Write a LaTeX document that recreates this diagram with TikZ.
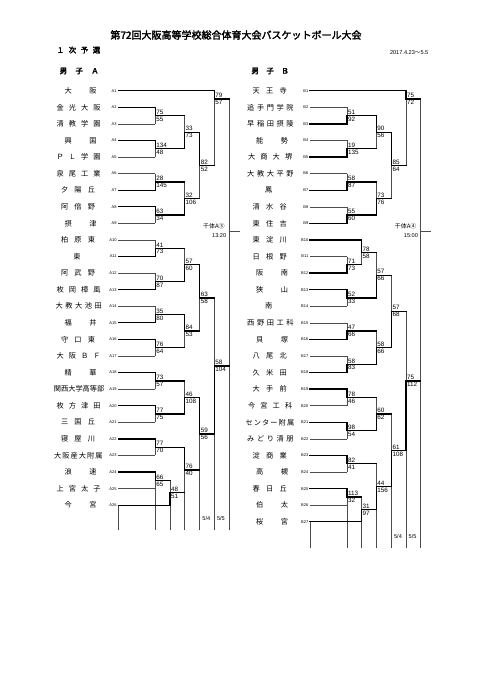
\documentclass[tikz,border=0pt]{standalone}
\usepackage{fontspec}
\setsansfont{Liberation Sans}
\newfontfamily\jp{Noto Sans CJK JP}[AutoFakeBold=2.5]
\pgfdeclarelayer{fg}
\pgfsetlayers{main,fg}
% name box: left offset from line start, box width, by number of characters
\def\nmLi{45.1}\def\nmWi{7.2}
\def\nmLii{54}\def\nmWii{32}
\def\nmLiii{57.5}\def\nmWiii{34}
\def\nmLiv{62}\def\nmWiv{44}
\def\nmLv{63}\def\nmWv{46.4}
\def\nmLvi{64.5}\def\nmWvi{48.5}
\def\nmLvii{64.6}\def\nmWvii{50.4}
\def\gobbleone#1{}
\def\sprd#1{\sprdi#1\relax}
\def\sprdi#1#2{#1\ifx\relax#2\expandafter\gobbleone\else\hfill\expandafter\sprdi\fi#2}
\newcommand\Yk[1]{(90.7+8.29*(#1))}
% column offsets
\def\cI{37}\def\cII{51.6}\def\cIII{66.2}\def\cIV{81.4}\def\cV{96}\def\cVI{110.6}\def\cT{121.2}
\def\ca{118.3}\def\cb{310}
\tikzset{
  win/.style={line width=1.3pt,black,line cap=rect},
  lose/.style={line width=0.5pt,black!70},
  nm/.style={inner sep=0pt,font=\jp\fontsize{7.2}{8}\selectfont},
  lb/.style={inner sep=0pt,font=\sffamily\fontsize{4}{4.5}\selectfont},
  sc/.style={inner sep=0.6pt,font=\sffamily\fontsize{6.3}{7}\selectfont},
  dt/.style={inner sep=0pt,font=\sffamily\fontsize{5.6}{6.5}\selectfont},
  hd/.style={inner sep=0pt,font=\jp\bfseries\fontsize{7.5}{9}\selectfont},
}
\newcommand\team[7]{%
  \edef\tmpL{\csname nmL\romannumeral#4\endcsname}%
  \edef\tmpW{\csname nmW\romannumeral#4\endcsname}%
  \node[nm,anchor=west] (n#3) at ({#1-\tmpL},{\Yk{#2}}) {\makebox[\tmpW pt]{\sprd{#5}}};
  \node[lb,anchor=east] (l#3) at ({#1-1.5},{\Yk{#2}}) {#3};
  \begin{pgfonlayer}{fg}
  \draw[#7] ({#1},{\Yk{#2}}) -- ({#1+#6},{\Yk{#2}});
  \end{pgfonlayer}
}
% #1 start x, #2 column, #3 next column, #4 upper k, #5 lower k, #6 output k, #7 u/l winner, #8 upper score, #9 lower score
\newcommand\mt[9]{%
  \def\xx{#1+#2}\def\xn{#1+#3}%
  \if u#7%
    \draw[lose] ({\xx},{\Yk{#6}}) -- ({\xx},{\Yk{#5}});
    \begin{pgfonlayer}{fg}\draw[win] ({\xx},{\Yk{#4}}) -- ({\xx},{\Yk{#6}});\end{pgfonlayer}
  \else
    \draw[lose] ({\xx},{\Yk{#4}}) -- ({\xx},{\Yk{#6}});
    \begin{pgfonlayer}{fg}\draw[win] ({\xx},{\Yk{#5}}) -- ({\xx},{\Yk{#6}});\end{pgfonlayer}
  \fi
  \begin{pgfonlayer}{fg}\draw[win] ({\xx},{\Yk{#6}}) -- ({\xn},{\Yk{#6}});\end{pgfonlayer}
  \node[sc,anchor=south west] at ({\xx+0.3},{\Yk{#6}-0.4}) {#8};
  \node[sc,anchor=north west] at ({\xx+0.3},{\Yk{#6}+0.5}) {#9};
}
\begin{document}
\begin{tikzpicture}[x=1pt,y=-1pt]
\useasboundingbox (0,0) rectangle (482,680);
\fill[white] (0,0) rectangle (482,680);
% header
\node[inner sep=0pt,font=\jp\bfseries\fontsize{10}{12}\selectfont] (title) at (236,35) {第72回大阪高等学校総合体育大会バスケットボール大会};
\node[hd,anchor=west] (round) at (56.5,50) {\makebox[43.5pt]{\sprd{１次予選}}};
\node[dt,anchor=east] (date) at (428.5,53) {2017.4.23{\jp ～}5.5};
\node[hd,anchor=west] (hA) at (59.5,71) {\makebox[39pt]{\sprd{男子Ａ}}};
\node[hd,anchor=west] (hB) at (251.2,71) {\makebox[37.5pt]{\sprd{男子Ｂ}}};
% guide lines A
\draw[lose] (\ca,{\Yk{50}}) -- (\ca,530);
\draw[lose] ({\ca+\cI},{\Yk{48}}) -- ({\ca+\cI},530);
\draw[lose] ({\ca+\cII},{\Yk{50}}) -- ({\ca+\cII},530);
\draw[lose] ({\ca+\cIII},{\Yk{48.5}}) -- ({\ca+\cIII},530);
\draw[lose] ({\ca+\cIV},{\Yk{45.75}}) -- ({\ca+\cIV},530);
\draw[lose] ({\ca+\cV},{\Yk{41.4}}) -- ({\ca+\cV},530);
\draw[lose] ({\ca+\cVI},{\Yk{1}}) -- ({\ca+\cVI},530);
\draw[lose] ({\ca+\cVI},{\Yk{17}}) -- ({\ca+\cT},{\Yk{17}});
\node[inner sep=0pt,anchor=east,font=\jp\fontsize{6}{7}\selectfont] (hallA) at ({\ca+\cVI-4},{\Yk{17}-5}) {千体A③};
\node[dt,anchor=east] (timeA) at ({\ca+\cVI-2.5},{\Yk{17}+3.6}) {13:20};
\node[dt,anchor=west] (dA1) at ({\ca+\cIV+2.5},518) {5/4};
\node[dt,anchor=west] (dA2) at ({\ca+\cV+2.5},518) {5/5};
% guide lines B
\draw[lose] (\cb,{\Yk{52}}) -- (\cb,548);
\draw[lose] ({\cb+\cI},{\Yk{50}}) -- ({\cb+\cI},548);
\draw[lose] ({\cb+\cII},{\Yk{52}}) -- ({\cb+\cII},548);
\draw[lose] ({\cb+\cIII},{\Yk{50.5}}) -- ({\cb+\cIII},548);
\draw[lose] ({\cb+\cIV},{\Yk{47.75}}) -- ({\cb+\cIV},548);
\draw[lose] ({\cb+\cV},{\Yk{43.4}}) -- ({\cb+\cV},548);
\draw[lose] ({\cb+\cVI},{\Yk{1}}) -- ({\cb+\cVI},548);
\draw[lose] ({\cb+\cVI},{\Yk{17}}) -- ({\cb+\cT},{\Yk{17}});
\node[inner sep=0pt,anchor=east,font=\jp\fontsize{6}{7}\selectfont] (hallB) at ({\cb+\cVI-4},{\Yk{17}-5}) {千体A④};
\node[dt,anchor=east] (timeB) at ({\cb+\cVI-2.5},{\Yk{17}+3.6}) {15:00};
\node[dt,anchor=west] (dB1) at ({\cb+\cIV+2.5},536) {5/4};
\node[dt,anchor=west] (dB2) at ({\cb+\cV+2.5},536) {5/5};
% teams A
\team{\ca}{0}{A1}{2}{大阪}{\cV}{win}
\team{\ca}{2}{A2}{4}{金光大阪}{\cI}{win}
\team{\ca}{4}{A3}{4}{清教学園}{\cI}{lose}
\team{\ca}{6}{A4}{2}{興国}{\cI}{win}
\team{\ca}{8}{A5}{4}{ＰＬ学園}{\cI}{lose}
\team{\ca}{10}{A6}{4}{泉尾工業}{\cI}{lose}
\team{\ca}{12}{A7}{3}{夕陽丘}{\cI}{win}
\team{\ca}{14}{A8}{3}{阿倍野}{\cI}{win}
\team{\ca}{16}{A9}{2}{摂津}{\cI}{lose}
\team{\ca}{18}{A10}{3}{柏原東}{\cI}{lose}
\team{\ca}{20}{A11}{1}{東}{\cI}{win}
\team{\ca}{22}{A12}{3}{阿武野}{\cI}{lose}
\team{\ca}{24}{A13}{4}{枚岡樟風}{\cI}{win}
\team{\ca}{26}{A14}{5}{大教大池田}{\cI}{lose}
\team{\ca}{28}{A15}{2}{福井}{\cI}{win}
\team{\ca}{30}{A16}{3}{守口東}{\cI}{win}
\team{\ca}{32}{A17}{4}{大阪ＢＦ}{\cI}{lose}
\team{\ca}{34}{A18}{2}{精華}{\cI}{win}
\team{\ca}{36}{A19}{7}{関西大学高等部}{\cI}{lose}
\team{\ca}{38}{A20}{4}{枚方津田}{\cI}{win}
\team{\ca}{40}{A21}{3}{三国丘}{\cI}{lose}
\team{\ca}{42}{A22}{3}{寝屋川}{\cI}{win}
\team{\ca}{44}{A23}{6}{大阪産大附属}{\cI}{lose}
\team{\ca}{46}{A24}{2}{浪速}{\cI}{win}
\team{\ca}{48}{A25}{4}{上宮太子}{\cI}{lose}
\team{\ca}{50}{A26}{2}{今宮}{\cII}{win}
% matches A
\mt{\ca}{\cI}{\cIII}{2}{4}{3}{u}{75}{55}
\mt{\ca}{\cI}{\cIII}{6}{8}{7}{u}{134}{48}
\mt{\ca}{\cI}{\cIII}{10}{12}{11}{l}{28}{145}
\mt{\ca}{\cI}{\cIII}{14}{16}{15}{u}{63}{34}
\mt{\ca}{\cI}{\cIII}{18}{20}{19}{l}{41}{73}
\mt{\ca}{\cI}{\cIII}{22}{24}{23}{l}{70}{87}
\mt{\ca}{\cI}{\cIII}{26}{28}{27}{l}{35}{80}
\mt{\ca}{\cI}{\cIII}{30}{32}{31}{u}{76}{64}
\mt{\ca}{\cI}{\cIII}{34}{36}{35}{u}{73}{57}
\mt{\ca}{\cI}{\cIII}{38}{40}{39}{u}{77}{75}
\mt{\ca}{\cI}{\cIII}{42}{44}{43}{u}{77}{70}
\mt{\ca}{\cI}{\cII}{46}{48}{47}{u}{66}{65}
\mt{\ca}{\cII}{\cIII}{47}{50}{48.5}{l}{48}{51}
\mt{\ca}{\cIII}{\cIV}{3}{7}{5}{l}{33}{73}
\mt{\ca}{\cIII}{\cIV}{11}{15}{13}{l}{32}{106}
\mt{\ca}{\cIII}{\cIV}{19}{23}{21}{l}{57}{60}
\mt{\ca}{\cIII}{\cIV}{27}{31}{29}{u}{84}{53}
\mt{\ca}{\cIII}{\cIV}{35}{39}{37}{l}{46}{108}
\mt{\ca}{\cIII}{\cIV}{43}{48.5}{45.75}{u}{76}{40}
\mt{\ca}{\cIV}{\cV}{5}{13}{9}{u}{82}{52}
\mt{\ca}{\cIV}{\cV}{21}{29}{25}{u}{63}{58}
\mt{\ca}{\cIV}{\cV}{37}{45.75}{41.4}{u}{59}{56}
\mt{\ca}{\cV}{\cVI}{0}{9}{1}{u}{79}{57}
\mt{\ca}{\cV}{\cVI}{25}{41.4}{33.2}{l}{58}{104}
% teams B
\team{\cb}{0}{B1}{3}{天王寺}{\cV}{win}
\team{\cb}{2}{B2}{5}{追手門学院}{\cI}{lose}
\team{\cb}{4}{B3}{5}{早稲田摂陵}{\cI}{win}
\team{\cb}{6}{B4}{2}{能勢}{\cI}{lose}
\team{\cb}{8}{B5}{4}{大商大堺}{\cI}{win}
\team{\cb}{10}{B6}{5}{大教大平野}{\cI}{lose}
\team{\cb}{12}{B7}{1}{鳳}{\cI}{win}
\team{\cb}{14}{B8}{3}{清水谷}{\cI}{lose}
\team{\cb}{16}{B9}{3}{東住吉}{\cI}{win}
\team{\cb}{18}{B10}{3}{東淀川}{\cII}{win}
\team{\cb}{20}{B11}{3}{日根野}{\cI}{lose}
\team{\cb}{22}{B12}{2}{阪南}{\cI}{win}
\team{\cb}{24}{B13}{2}{狭山}{\cI}{win}
\team{\cb}{26}{B14}{1}{南}{\cI}{lose}
\team{\cb}{28}{B15}{5}{西野田工科}{\cI}{lose}
\team{\cb}{30}{B16}{2}{貝塚}{\cI}{win}
\team{\cb}{32}{B17}{3}{八尾北}{\cI}{lose}
\team{\cb}{34}{B18}{3}{久米田}{\cI}{win}
\team{\cb}{36}{B19}{3}{大手前}{\cI}{win}
\team{\cb}{38}{B20}{4}{今宮工科}{\cI}{lose}
\team{\cb}{40}{B21}{6}{センター附属}{\cI}{win}
\team{\cb}{42}{B22}{5}{みどり清朋}{\cI}{lose}
\team{\cb}{44}{B23}{3}{淀商業}{\cI}{win}
\team{\cb}{46}{B24}{2}{高槻}{\cI}{lose}
\team{\cb}{48}{B25}{3}{春日丘}{\cI}{win}
\team{\cb}{50}{B26}{2}{伯太}{\cI}{lose}
\team{\cb}{52}{B27}{2}{桜宮}{\cII}{win}
% matches B
\mt{\cb}{\cI}{\cIII}{2}{4}{3}{l}{51}{92}
\mt{\cb}{\cI}{\cIII}{6}{8}{7}{l}{19}{135}
\mt{\cb}{\cI}{\cIII}{10}{12}{11}{l}{58}{87}
\mt{\cb}{\cI}{\cIII}{14}{16}{15}{l}{55}{60}
\mt{\cb}{\cI}{\cII}{20}{22}{21}{l}{71}{73}
\mt{\cb}{\cII}{\cIII}{18}{21}{19.5}{u}{78}{58}
\mt{\cb}{\cI}{\cIII}{24}{26}{25}{u}{52}{33}
\mt{\cb}{\cI}{\cIII}{28}{30}{29}{l}{47}{66}
\mt{\cb}{\cI}{\cIII}{32}{34}{33}{l}{58}{83}
\mt{\cb}{\cI}{\cIII}{36}{38}{37}{u}{78}{46}
\mt{\cb}{\cI}{\cIII}{40}{42}{41}{u}{98}{54}
\mt{\cb}{\cI}{\cIII}{44}{46}{45}{u}{82}{41}
\mt{\cb}{\cI}{\cII}{48}{50}{49}{u}{113}{32}
\mt{\cb}{\cII}{\cIII}{49}{52}{50.5}{l}{31}{97}
\mt{\cb}{\cIII}{\cIV}{3}{7}{5}{u}{90}{56}
\mt{\cb}{\cIII}{\cIV}{11}{15}{13}{l}{73}{76}
\mt{\cb}{\cIII}{\cIV}{19.5}{25}{22.25}{l}{57}{66}
\mt{\cb}{\cIII}{\cIV}{29}{33}{31}{l}{58}{66}
\mt{\cb}{\cIII}{\cIV}{37}{41}{39}{l}{60}{62}
\mt{\cb}{\cIII}{\cIV}{45}{50.5}{47.75}{l}{44}{156}
\mt{\cb}{\cIV}{\cV}{5}{13}{9}{u}{85}{64}
\mt{\cb}{\cIV}{\cV}{22.25}{31}{26.6}{l}{57}{68}
\mt{\cb}{\cIV}{\cV}{39}{47.75}{43.4}{l}{61}{108}
\mt{\cb}{\cV}{\cVI}{0}{9}{1}{u}{75}{72}
\mt{\cb}{\cV}{\cVI}{26.6}{43.4}{35}{l}{75}{112}
\end{tikzpicture}
\end{document}
